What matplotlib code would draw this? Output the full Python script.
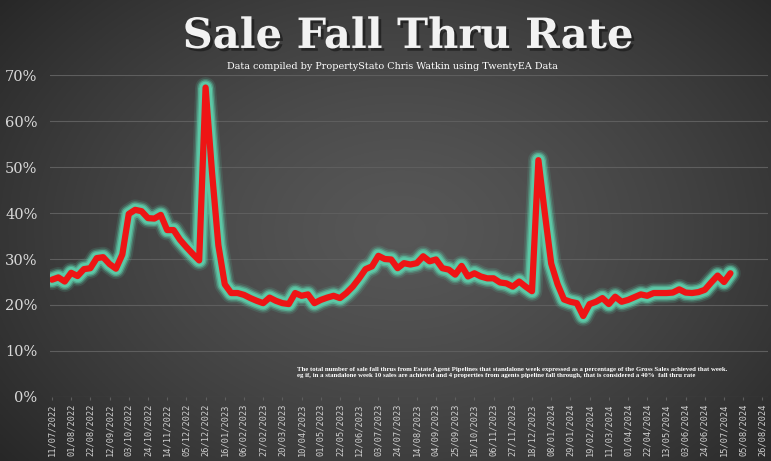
import numpy as np
import pandas as pd
import matplotlib
matplotlib.use('Agg')
import matplotlib.pyplot as plt
import matplotlib.dates as mdates
import matplotlib.patheffects as pe
from matplotlib import font_manager
from matplotlib.ticker import FuncFormatter

# weekly fall thru rate (%), week starting 11/07/2022
start = '2022-07-11'
rate = [25.5, 26.0, 25.1, 27.0, 26.3, 27.8, 28.0, 30.2, 30.4, 28.9,
        27.9, 31.0, 39.8, 40.7, 40.4, 38.9, 38.8, 39.6, 36.3, 36.3,
        34.2, 32.6, 31.1, 29.7, 67.3, 49.0, 33.0, 24.5, 22.6, 22.6,
        22.2, 21.5, 20.9, 20.4, 21.6, 20.9, 20.4, 20.2, 22.6, 22.0,
        22.3, 20.4, 21.1, 21.6, 22.0, 21.5, 22.6, 24.0, 25.8, 27.8,
        28.4, 30.7, 30.0, 29.9, 28.0, 29.1, 28.8, 29.1, 30.6, 29.5,
        29.9, 28.0, 27.7, 26.6, 28.5, 26.2, 26.9, 26.2, 25.8, 25.8,
        24.9, 24.7, 24.0, 25.1, 24.0, 23.0, 51.5, 40.0, 29.0, 24.5,
        21.2, 20.7, 20.4, 17.6, 20.2, 20.7, 21.5, 20.2, 21.8, 20.7,
        21.1, 21.7, 22.3, 22.0, 22.6, 22.6, 22.6, 22.7, 23.4, 22.7,
        22.6, 22.8, 23.3, 24.9, 26.4, 25.0, 26.9]
weeks = pd.date_range(start, periods=len(rate), freq='7D')
tick_dates = pd.date_range(start, '2024-08-26', freq='21D')

title = 'Sale Fall Thru Rate'
subtitle = 'Data compiled by PropertyStato Chris Watkin using TwentyEA Data'
note = ('The total number of sale fall thrus from Estate Agent Pipelines that standalone week expressed as a percentage of the Gross Sales achieved that week.\n'
        'eg if, in a standalone week 10 sales are achieved and 4 properties from agents pipeline fall through, that is considered a 40%  fall thru rate')

fig = plt.figure(figsize=(7.71, 4.61), dpi=100)

# dark radial background
bg = fig.add_axes([0, 0, 1, 1], zorder=-10)
yy, xx = np.mgrid[0:1:300j, 0:1:500j]
r = np.sqrt(((xx - 0.52) / 0.75) ** 2 + ((yy - 0.5) / 0.9) ** 2)
shade = 0.34 - 0.22 * np.clip(r, 0, 1) ** 1.4
bg.imshow(np.dstack([shade] * 3), aspect='auto', extent=[0, 1, 0, 1])
bg.axis('off')

ax = fig.add_axes([0.065, 0.139, 0.931, 0.698])
ax.patch.set_alpha(0)

x = mdates.date2num(weeks)
y = np.array(rate) / 100
glow = '#5cc8a6'
for lw, a in [(15, 0.15), (12.5, 0.3), (10.5, 0.6), (8.5, 1.0)]:
    ax.plot(x, y, color=glow, lw=lw, alpha=a, solid_joinstyle='round', solid_capstyle='round')
ax.plot(x, y, color='#ee1515', lw=4.5, solid_joinstyle='round', solid_capstyle='round')

ax.set_ylim(0, 0.70)
ax.set_yticks(np.arange(0, 0.71, 0.1))
ax.yaxis.set_major_formatter(FuncFormatter(lambda v, p: f'{v*100:.0f}%'))
ax.set_xlim(mdates.date2num(pd.Timestamp('2022-07-09')), mdates.date2num(pd.Timestamp('2024-09-01')))
ax.set_xticks(mdates.date2num(tick_dates))
ax.set_xticklabels([d.strftime('%d/%m/%Y') for d in tick_dates], rotation=90)

ax.grid(axis='y', color='#5e5e5e', lw=0.8)
ax.set_axisbelow(True)
for s in ax.spines.values():
    s.set_visible(False)
ax.tick_params(axis='y', length=0, colors='#d9d9d9', labelsize=10.5, pad=9)
ax.tick_params(axis='x', length=2.5, color='#5e5e5e', colors='#cfcfcf', labelsize=6.2, pad=2)
for lab in ax.get_yticklabels():
    lab.set_family('DejaVu Serif')
for lab in ax.get_xticklabels():
    lab.set_family('DejaVu Sans Mono')
    lab.set_color('#cfcfcf')

fig.text(0.529, 0.922, title, ha='center', va='center', fontsize=30, fontweight='bold',
         family='DejaVu Serif', color='#f2f2f2',
         path_effects=[pe.withSimplePatchShadow(offset=(2, -2), shadow_rgbFace='#1a1a1a', alpha=0.7)])
fig.text(0.509, 0.855, subtitle, ha='center', va='center', fontsize=6.9,
         family='DejaVu Serif', color='white')

# narrow face for the long note if there is one
try:
    font_manager.findfont('Liberation Sans Narrow', fallback_to_default=False)
    note_font = 'Liberation Sans Narrow'
except ValueError:
    note_font = 'Liberation Serif'
t = fig.text(0.385, 0.192, note, ha='left', va='center', fontsize=6, fontweight='bold',
             family=note_font, color='white', linespacing=1.2)

# scale the note so its longest line spans about the same width as in the original
fig.canvas.draw()
wpx = t.get_window_extent().width
t.set_fontsize(6 * 433 / wpx)

fig.savefig('out.png', dpi=100)
